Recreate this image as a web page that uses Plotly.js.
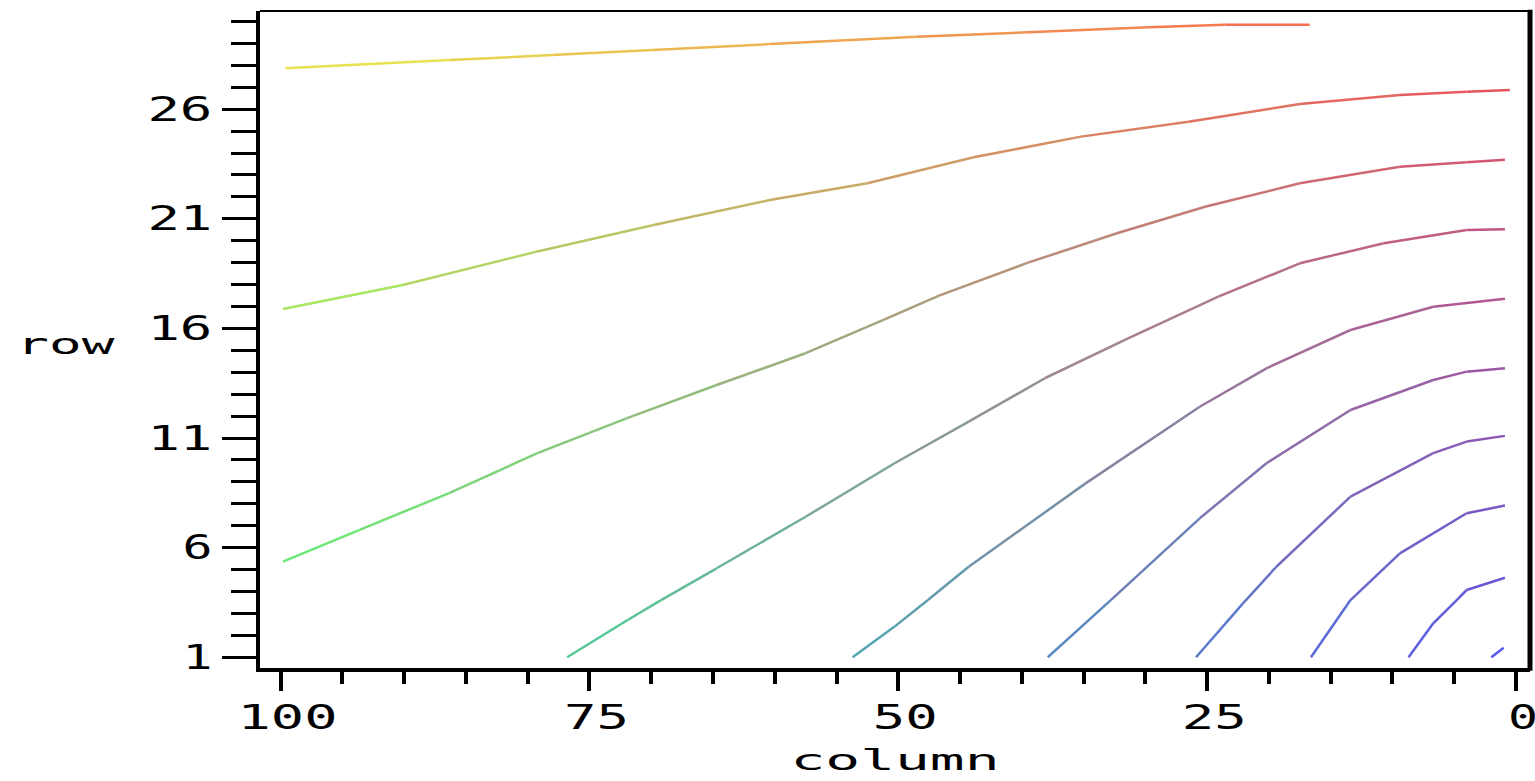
<!DOCTYPE html>
<html>
<head>
<meta charset="utf-8">
<script src="https://cdn.plot.ly/plotly-3.0.1.min.js"></script>
<style>
html, body { margin: 0; padding: 0; background: #ffffff; }
#chart { width: 1535px; height: 781px; }
</style>
</head>
<body>
<div id="chart"></div>
<script>
// ---- Data (column, row) for each contour line ----
const contour1Col = [99.6, 86.3, 78.0, 69.9, 60.4, 48.5, 39.5, 29.7, 23.6, 16.7];
const contour1Row = [27.87, 28.24, 28.47, 28.70, 28.97, 29.31, 29.51, 29.74, 29.85, 29.85];

const contour2Col = [99.8, 90.1, 79.3, 69.8, 60.4, 52.5, 43.9, 35.2, 26.5, 17.5, 9.4, 4.0, 0.5];
const contour2Row = [16.89, 17.98, 19.50, 20.72, 21.86, 22.62, 23.81, 24.75, 25.43, 26.24, 26.65, 26.80, 26.88];

const contour3Col = [99.8, 93.6, 86.4, 79.2, 72.0, 64.7, 57.5, 51.2, 46.7, 39.5, 32.3, 25.1, 17.5, 9.4, 4.0, 0.9];
const contour3Row = [5.36, 6.81, 8.48, 10.31, 11.90, 13.42, 14.87, 16.39, 17.50, 19.00, 20.34, 21.56, 22.62, 23.38, 23.58, 23.69];

const contour4Col = [76.8, 71.9, 69.2, 64.7, 57.5, 50.3, 44.3, 38.1, 31.4, 24.1, 17.5, 10.7, 4.0, 0.9];
const contour4Row = [1.0, 2.70, 3.61, 5.06, 7.41, 9.85, 11.75, 13.74, 15.55, 17.45, 18.97, 19.89, 20.49, 20.53];

const contour5Col = [53.7, 50.3, 47.6, 44.3, 34.9, 25.6, 20.2, 13.4, 6.7, 0.9];
const contour5Row = [1.0, 2.40, 3.61, 5.13, 8.91, 12.43, 14.18, 15.93, 16.99, 17.35];

const contour6Col = [37.9, 32.8, 25.6, 20.2, 13.4, 6.7, 4.0, 0.9];
const contour6Row = [1.0, 3.61, 7.34, 9.85, 12.28, 13.65, 14.03, 14.18];

const contour7Col = [25.9, 22.1, 19.4, 13.4, 6.7, 4.0, 0.9];
const contour7Row = [1.0, 3.46, 5.13, 8.33, 10.31, 10.84, 11.10];

const contour8Col = [16.6, 13.4, 9.4, 4.0, 0.9];
const contour8Row = [1.0, 3.61, 5.74, 7.57, 7.92];

const contour9Col = [8.7, 6.7, 4.8, 4.0, 0.9];
const contour9Row = [1.0, 2.55, 3.61, 4.07, 4.63];

const contour10Col = [2.0, 1.0];
const contour10Row = [1.0, 1.44];

const xTickLabels = ['0', '25', '50', '75', '100'];
const yTickLabels = ['1', '6', '11', '16', '21', '26'];
const xTickValues = [0, 25, 50, 75, 100];
const yTickValues = [1, 6, 11, 16, 21, 26];

// ---- Styling ----
const FONT = 'DejaVu Sans Mono';
// colour of the line depends on where it sits in the (column,row) plane
const CORNER_BL = [80, 238, 122];   // column 100, row 1
const CORNER_BR = [85, 85, 238];    // column 0,   row 1
const CORNER_TL = [240, 238, 75];   // column 100, row 30
const CORNER_TR = [248, 80, 80];    // column 0,   row 30

function colorAt(col, row) {
  const s = Math.min(1, Math.max(0, col / 100));
  const t = Math.min(1, Math.max(0, (row - 1) / 29));
  const out = [0, 1, 2].map(i => {
    const bottom = CORNER_BR[i] * (1 - s) + CORNER_BL[i] * s;
    const top = CORNER_TR[i] * (1 - s) + CORNER_TL[i] * s;
    return Math.round(bottom * (1 - t) + top * t);
  });
  return 'rgb(' + out.join(',') + ')';
}

const contours = [
  [contour1Col, contour1Row], [contour2Col, contour2Row], [contour3Col, contour3Row],
  [contour4Col, contour4Row], [contour5Col, contour5Row], [contour6Col, contour6Row],
  [contour7Col, contour7Row], [contour8Col, contour8Row], [contour9Col, contour9Row],
  [contour10Col, contour10Row]
];

const traces = [];
contours.forEach(([cx, cy]) => {
  for (let i = 0; i < cx.length - 1; i++) {
    traces.push({
      type: 'scatter', mode: 'lines',
      x: [cx[i], cx[i + 1]], y: [cy[i], cy[i + 1]],
      line: { color: colorAt((cx[i] + cx[i + 1]) / 2, (cy[i] + cy[i + 1]) / 2), width: 2.5 },
      hoverinfo: 'skip', showlegend: false
    });
  }
});

const layout = {
  width: 1535, height: 781,
  margin: { l: 260, r: 5, t: 11, b: 113, pad: 0 },
  paper_bgcolor: '#ffffff', plot_bgcolor: '#ffffff',
  showlegend: false,
  xaxis: {
    range: [101.66, -1.13],
    tickmode: 'array', tickvals: xTickValues, ticktext: xTickLabels,
    ticks: 'outside', ticklen: 19, tickwidth: 4, tickcolor: '#000',
    showline: true, linewidth: 4, linecolor: '#000',
    showgrid: false, zeroline: false,
    ticklabelshift: -7, ticklabelstandoff: -2,
    minor: { tick0: 0, dtick: 5, ticks: 'outside', ticklen: 12, tickwidth: 4, tickcolor: '#000', showgrid: false },
    tickfont: { family: FONT, size: 33, color: '#000' },
    title: { text: 'column', font: { family: FONT, size: 28, color: '#000' }, standoff: 16 }
  },
  yaxis: {
    range: [0.512, 30.48],
    tickmode: 'array', tickvals: yTickValues, ticktext: yTickLabels,
    ticks: 'outside', ticklen: 34, tickwidth: 3, tickcolor: '#000',
    showline: true, linewidth: 4, linecolor: '#000',
    showgrid: false, zeroline: false,
    ticklabelstandoff: 3,
    minor: { tick0: 1, dtick: 1, ticks: 'outside', ticklen: 25, tickwidth: 3, tickcolor: '#000', showgrid: false },
    tickfont: { family: FONT, size: 33, color: '#000' }
  },
  annotations: [{
    text: 'row', xref: 'paper', yref: 'paper',
    x: -0.1535, y: 0.492, xanchor: 'center', yanchor: 'middle',
    showarrow: false, font: { family: FONT, size: 28, color: '#000' }
  }],
  shapes: [
    { type: 'line', xref: 'paper', yref: 'paper', x0: 0, x1: 1, y0: 1, y1: 1, line: { color: '#000', width: 2 } },
    { type: 'line', xref: 'paper', yref: 'paper', x0: 1, x1: 1, y0: -0.004, y1: 1.002, line: { color: '#000', width: 5 } }
  ]
};

// widen the glyphs to resemble the wide stroke font of the original
function widen(selector, perChar, trim) {
  document.querySelectorAll(selector).forEach(t => {
    const n = t.textContent.length;
    if (!n) return;
    t.setAttribute('textLength', String(n * perChar - trim));
    t.setAttribute('lengthAdjust', 'spacingAndGlyphs');
  });
}

Plotly.newPlot('chart', traces, layout, { displayModeBar: false, staticPlot: true }).then(() => {
  widen('.xtick text', 35, 5);
  widen('.ytick text', 35, 5);
  widen('.xtitle', 35.5, 4);
  widen('.annotation-text', 34, 4);
});
</script>
</body>
</html>
